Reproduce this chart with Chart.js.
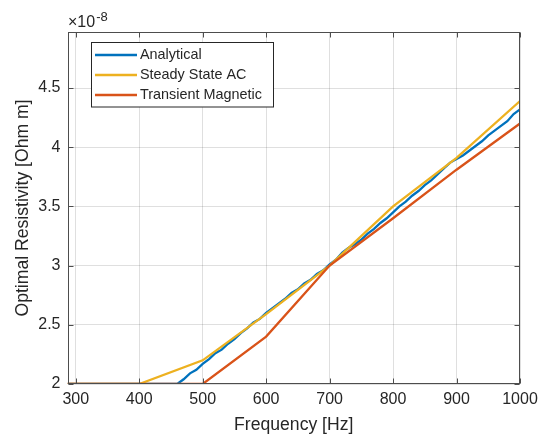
<!DOCTYPE html>
<html>
<head>
<meta charset="utf-8">
<script src="https://cdn.jsdelivr.net/npm/chart.js@4.4.0/dist/chart.umd.min.js"></script>
<style>
  html, body { margin: 0; padding: 0; background: #ffffff; }
  #wrap { width: 544px; height: 438px; position: relative; }
</style>
</head>
<body>
<div id="wrap"><canvas id="c" width="544" height="438"></canvas></div>
<script>
// ---- data (values in units of 1e-8 Ohm m) ----
const seriesLabels = ['Analytical', 'Steady State AC', 'Transient Magnetic'];
const seriesColors = ['#0072BD', '#EDB120', '#D95319'];

const analyticalFreq = [287, 460, 470, 480, 490, 500, 510, 520, 530, 540, 550, 560, 570, 580, 590, 600,
  610, 620, 630, 640, 650, 660, 670, 680, 690, 700, 710, 720, 730, 740, 750, 760, 770, 780, 790, 800,
  810, 820, 830, 840, 850, 860, 870, 880, 890, 900, 910, 920, 930, 940, 950, 960, 970, 980, 990, 1000];
const analyticalVals = [2.00, 2.00, 2.04, 2.09, 2.12, 2.17, 2.21, 2.26, 2.29, 2.34, 2.38, 2.43, 2.47, 2.52, 2.55, 2.60,
  2.64, 2.68, 2.72, 2.77, 2.80, 2.85, 2.88, 2.93, 2.96, 3.01, 3.05, 3.11, 3.15, 3.18, 3.22, 3.27, 3.31, 3.36, 3.40, 3.45,
  3.50, 3.54, 3.59, 3.63, 3.68, 3.72, 3.77, 3.82, 3.87, 3.90, 3.93, 3.97, 4.01, 4.05, 4.10, 4.14, 4.18, 4.22, 4.28, 4.32];

const steadyFreq = [287, 400, 500, 600, 700, 800, 900, 1000];
const steadyVals = [2.00, 2.00, 2.20, 2.59, 3.00, 3.50, 3.91, 4.39];

const transientFreq = [287, 500, 600, 700, 800, 900, 1000];
const transientVals = [2.00, 2.00, 2.40, 3.00, 3.40, 3.81, 4.20];

const xTicks = [300, 400, 500, 600, 700, 800, 900, 1000];
const yTicks = [2, 2.5, 3, 3.5, 4, 4.5];
const xRange = [287, 1000];
const yRange = [2, 4.973];

const xTitle = 'Frequency [Hz]';
const yTitle = 'Optimal Resistivity [Ohm m]';
const expBase = '\u00d710';
const expPow = '-8';

const FONT = '"Liberation Sans", Arial, Helvetica, sans-serif';
const TXT = '#262626';

function pts(xs, ys) { return xs.map((x, i) => ({ x: x, y: ys[i] })); }

const decor = {
  id: 'decor',
  afterDatasetsDraw(chart) {
    const ctx = chart.ctx;
    const a = chart.chartArea;
    const xs = chart.scales.x, ys = chart.scales.y;
    ctx.save();
    // box
    ctx.strokeStyle = '#4d4d4d';
    ctx.lineWidth = 1;
    const L = Math.round(a.left) + 0.5, R = Math.round(a.right) - 0.5;
    const T = Math.round(a.top) + 0.5, B = Math.round(a.bottom) - 0.5;
    ctx.strokeRect(L, T, R - L, B - T);
    // inward ticks
    const tl = 5;
    ctx.beginPath();
    xTicks.forEach(v => {
      const px = Math.round(xs.getPixelForValue(v)) + 0.5;
      ctx.moveTo(px, B); ctx.lineTo(px, B - tl);
      ctx.moveTo(px, T); ctx.lineTo(px, T + tl);
    });
    yTicks.forEach(v => {
      const py = Math.round(ys.getPixelForValue(v)) + 0.5;
      ctx.moveTo(L, py); ctx.lineTo(L + tl, py);
      ctx.moveTo(R, py); ctx.lineTo(R - tl, py);
    });
    ctx.stroke();

    // axis titles
    ctx.fillStyle = TXT;
    ctx.font = '17.6px ' + FONT;
    ctx.textAlign = 'center';
    ctx.textBaseline = 'middle';
    ctx.fillText(xTitle, (a.left + a.right) / 2, 425);
    ctx.save();
    ctx.translate(23, (a.top + a.bottom) / 2);
    ctx.rotate(-Math.PI / 2);
    ctx.fillText(yTitle, 0, 0);
    ctx.restore();

    // exponent
    ctx.textAlign = 'left';
    ctx.textBaseline = 'alphabetic';
    ctx.font = '16px ' + FONT;
    ctx.fillText(expBase, 68, 27);
    const w = ctx.measureText(expBase).width;
    ctx.font = '13px ' + FONT;
    ctx.fillText(expPow, 68 + w + 1, 21);

    // legend
    const lx = 91.5, ly = 42.5, lw = 182, lh = 64.5;
    ctx.fillStyle = '#ffffff';
    ctx.fillRect(lx, ly, lw, lh);
    ctx.strokeStyle = '#262626';
    ctx.lineWidth = 1;
    ctx.strokeRect(lx, ly, lw, lh);
    const rows = [55, 75, 95];
    ctx.font = '14.4px ' + FONT;
    ctx.textBaseline = 'middle';
    chart.data.datasets.forEach((ds, i) => {
      ctx.strokeStyle = ds.borderColor;
      ctx.lineWidth = 2.5;
      ctx.beginPath();
      ctx.moveTo(95, rows[i]);
      ctx.lineTo(137, rows[i]);
      ctx.stroke();
      ctx.fillStyle = TXT;
      ctx.fillText(ds.label, 140, rows[i] + 0.5);
    });
    ctx.restore();
  }
};

new Chart(document.getElementById('c'), {
  type: 'line',
  data: {
    datasets: [
      { label: seriesLabels[0], data: pts(analyticalFreq, analyticalVals), borderColor: seriesColors[0], order: 3 },
      { label: seriesLabels[1], data: pts(steadyFreq, steadyVals), borderColor: seriesColors[1], order: 2 },
      { label: seriesLabels[2], data: pts(transientFreq, transientVals), borderColor: seriesColors[2], order: 1 }
    ]
  },
  options: {
    responsive: false,
    animation: false,
    devicePixelRatio: 1,
    layout: { padding: { top: 32, right: 24, left: 0, bottom: 0 } },
    elements: {
      line: { borderWidth: 2.3, tension: 0, fill: false },
      point: { radius: 0, hoverRadius: 0 }
    },
    plugins: { legend: { display: false }, tooltip: { enabled: false } },
    scales: {
      x: {
        type: 'linear',
        min: xRange[0], max: xRange[1],
        afterBuildTicks: s => { s.ticks = xTicks.map(v => ({ value: v })); },
        afterFit: s => { s.height = 54; },
        grid: { color: 'rgba(38,38,38,0.15)', drawTicks: false, lineWidth: 1 },
        border: { display: false },
        ticks: { font: { family: FONT, size: 16 }, color: TXT, padding: 6, maxRotation: 0, autoSkip: false,
          callback: v => String(v) }
      },
      y: {
        type: 'linear',
        min: yRange[0], max: yRange[1],
        afterBuildTicks: s => { s.ticks = yTicks.map(v => ({ value: v })); },
        afterFit: s => { s.width = 67.5; },
        grid: { color: 'rgba(38,38,38,0.15)', drawTicks: false, lineWidth: 1 },
        border: { display: false },
        ticks: { font: { family: FONT, size: 16 }, color: TXT, padding: 7, autoSkip: false,
          callback: v => String(v) }
      }
    }
  },
  plugins: [decor]
});
</script>
</body>
</html>
